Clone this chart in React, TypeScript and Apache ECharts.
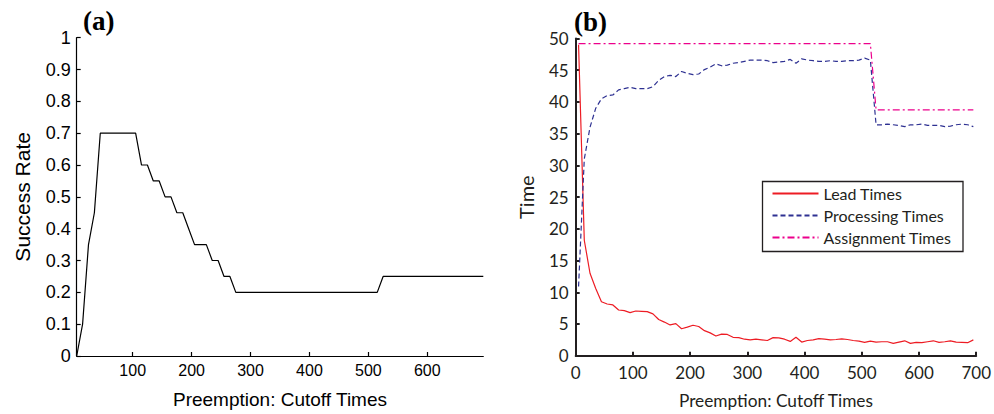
import React, { useEffect, useRef } from "react";
import * as echarts from "echarts";

const cutoffTimes: number[] = [
  5, 15, 25, 35, 45, 55, 65, 75, 85, 95,
  105, 115, 125, 135, 145, 155, 165, 175, 185, 195,
  205, 215, 225, 235, 245, 255, 265, 275, 285, 295,
  305, 315, 325, 335, 345, 355, 365, 375, 385, 395,
  405, 415, 425, 435, 445, 455, 465, 475, 485, 495,
  505, 515, 525, 535, 545, 555, 565, 575, 585, 595,
  605, 615, 625, 635, 645, 655, 665, 675, 685, 695,
];

const successRate: number[] = [
  0, 0.1, 0.35, 0.45, 0.7, 0.7, 0.7, 0.7, 0.7, 0.7,
  0.7, 0.6, 0.6, 0.55, 0.55, 0.5, 0.5, 0.45, 0.45, 0.4,
  0.35, 0.35, 0.35, 0.3, 0.3, 0.25, 0.25, 0.2, 0.2, 0.2,
  0.2, 0.2, 0.2, 0.2, 0.2, 0.2, 0.2, 0.2, 0.2, 0.2,
  0.2, 0.2, 0.2, 0.2, 0.2, 0.2, 0.2, 0.2, 0.2, 0.2,
  0.2, 0.2, 0.25, 0.25, 0.25, 0.25, 0.25, 0.25, 0.25, 0.25,
  0.25, 0.25, 0.25, 0.25, 0.25, 0.25, 0.25, 0.25, 0.25, 0.25,
];

const leadTimes: number[] = [
  49, 18.2, 13.0, 10.6, 8.5, 8.15, 8.0, 7.2, 7.1, 6.8,
  7.05, 7.0, 6.95, 6.6, 5.7, 5.3, 4.85, 5.05, 4.25, 4.5,
  4.8, 4.6, 3.95, 3.6, 3.1, 3.4, 3.35, 2.9, 2.85, 2.6,
  2.5, 2.6, 2.5, 2.4, 2.85, 2.8, 2.6, 2.25, 2.9, 2.15,
  2.4, 2.5, 2.7, 2.6, 2.5, 2.55, 2.65, 2.55, 2.4, 2.3,
  2.1, 2.3, 2.15, 2.2, 2.2, 1.95, 2.15, 2.35, 1.95, 2.1,
  2.05, 2.2, 2.35, 2.1, 2.2, 2.35, 2.15, 2.1, 2.05, 2.5,
];

const processingTimes: number[] = [
  10.9, 31, 36, 39, 40.5, 41, 41.1, 41.9, 42.1, 42.3,
  42.1, 42.1, 42.1, 42.4, 43.4, 44.0, 44.2, 44.0, 44.8, 44.5,
  44.3, 44.4, 45.1, 45.5, 46.0, 45.7, 45.8, 46.1, 46.2, 46.4,
  46.6, 46.6, 46.6, 46.5, 46.2, 46.3, 46.4, 46.7, 46.1, 46.8,
  46.6, 46.5, 46.4, 46.4, 46.5, 46.4, 46.4, 46.5, 46.5, 46.6,
  46.9, 46.6, 36.4, 36.4, 36.5, 36.4, 36.3, 36.1, 36.4, 36.4,
  36.5, 36.3, 36.3, 36.3, 36.1, 36.2, 36.4, 36.5, 36.4, 36.1,
];

const assignmentTimes: number[] = [
  49.2, 49.2, 49.2, 49.2, 49.2, 49.2, 49.2, 49.2, 49.2, 49.2,
  49.2, 49.2, 49.2, 49.2, 49.2, 49.2, 49.2, 49.2, 49.2, 49.2,
  49.2, 49.2, 49.2, 49.2, 49.2, 49.2, 49.2, 49.2, 49.2, 49.2,
  49.2, 49.2, 49.2, 49.2, 49.2, 49.2, 49.2, 49.2, 49.2, 49.2,
  49.2, 49.2, 49.2, 49.2, 49.2, 49.2, 49.2, 49.2, 49.2, 49.2,
  49.2, 49.2, 38.75, 38.75, 38.75, 38.75, 38.75, 38.75, 38.75, 38.75,
  38.75, 38.75, 38.75, 38.75, 38.75, 38.75, 38.75, 38.75, 38.75, 38.75,
];

const leftXTicks: number[] = [100, 200, 300, 400, 500, 600];
const seriesNames: string[] = ["Lead Times", "Processing Times", "Assignment Times"];

const pair = (ys: number[]) => cutoffTimes.map((x, i) => [x, ys[i]]);

const FONT_A = "Liberation Sans, Arial, Helvetica, sans-serif";
const FONT_B = "Lato, Liberation Sans, sans-serif";
const INK_B = "#231f20";

export default function App() {
  const ref = useRef<HTMLDivElement>(null);
  useEffect(() => {
    if (!ref.current) return;
    const chart = echarts.init(ref.current, undefined, { renderer: "svg" });
    const option: any = {
      animation: false,
      backgroundColor: "#ffffff",
      grid: [
        { left: 76.7, top: 37.7, width: 406.6, height: 321.3 },
        { left: 575.7, top: 38.5, width: 403.3, height: 317.2 },
      ],
      xAxis: [
        {
          type: "value",
          gridIndex: 0,
          min: 5,
          max: 695,
          name: "Preemption: Cutoff Times",
          nameLocation: "middle",
          nameGap: 34,
          nameTextStyle: { fontFamily: FONT_A, fontSize: 19, color: "#000" },
          axisLine: { lineStyle: { color: "#000", width: 1.2 } },
          axisTick: { inside: true, length: 4, customValues: leftXTicks, lineStyle: { color: "#000", width: 1.2 } },
          axisLabel: { customValues: leftXTicks, fontFamily: FONT_A, fontSize: 16, color: "#000", margin: 6 },
          splitLine: { show: false },
        },
        {
          type: "value",
          gridIndex: 1,
          min: 0,
          max: 700,
          interval: 100,
          name: "Preemption: Cutoff Times",
          nameLocation: "middle",
          nameGap: 36,
          nameTextStyle: { fontFamily: FONT_B, fontSize: 17.3, color: INK_B },
          axisLine: { lineStyle: { color: INK_B, width: 2 } },
          axisTick: { inside: true, length: 4, lineStyle: { color: INK_B, width: 2 } },
          axisLabel: { fontFamily: FONT_B, fontSize: 17, color: INK_B, margin: 8 },
          splitLine: { show: false },
        },
      ],
      yAxis: [
        {
          type: "value",
          gridIndex: 0,
          min: 0,
          max: 1,
          interval: 0.1,
          name: "Success Rate",
          nameLocation: "middle",
          nameGap: 44,
          nameTextStyle: { fontFamily: FONT_A, fontSize: 21, color: "#000" },
          axisLine: { show: true, lineStyle: { color: "#000", width: 1.2 } },
          axisTick: { show: true, inside: true, length: 4, lineStyle: { color: "#000", width: 1.2 } },
          axisLabel: { fontFamily: FONT_A, fontSize: 18, color: "#000", margin: 6 },
          splitLine: { show: false },
        },
        {
          type: "value",
          gridIndex: 1,
          min: 0,
          max: 50,
          interval: 5,
          name: "Time",
          nameLocation: "middle",
          nameGap: 40,
          nameTextStyle: { fontFamily: FONT_B, fontSize: 20, color: INK_B },
          axisLine: { show: true, lineStyle: { color: INK_B, width: 2 } },
          axisTick: { show: true, inside: true, length: 4, lineStyle: { color: INK_B, width: 2 } },
          axisLabel: { fontFamily: FONT_B, fontSize: 17, color: INK_B, margin: 7 },
          splitLine: { show: false },
        },
      ],
      legend: {
        data: seriesNames,
        orient: "vertical",
        left: 767.5,
        top: 181.5,
        padding: [4, 4, 4, 4],
        itemWidth: 46,
        itemHeight: 14,
        itemGap: 6,
        selectedMode: false,
        itemStyle: { opacity: 0 },
        textStyle: { fontFamily: FONT_B, fontSize: 16, lineHeight: 16, color: INK_B },
      },
      graphic: [
        {
          type: "rect",
          shape: { x: 762.5, y: 181.5, width: 200.5, height: 70 },
          style: { fill: "none", stroke: INK_B, lineWidth: 1.3 },
          silent: true,
        },
        {
          type: "text",
          x: 83,
          y: 21,
          style: {
            text: "(a)",
            font: 'bold 27px "Liberation Serif", "Times New Roman", serif',
            fill: "#000",
            textVerticalAlign: "middle",
          },
        },
        {
          type: "text",
          x: 574,
          y: 22,
          style: {
            text: "(b)",
            font: 'bold 27px "Liberation Serif", "Times New Roman", serif',
            fill: "#000",
            textVerticalAlign: "middle",
          },
        },
      ],
      series: [
        {
          name: "Success Rate",
          type: "line",
          xAxisIndex: 0,
          yAxisIndex: 0,
          data: pair(successRate),
          symbol: "none",
          lineStyle: { color: "#000", width: 1.2 },
          itemStyle: { color: "#000" },
        },
        {
          name: seriesNames[0],
          type: "line",
          xAxisIndex: 1,
          yAxisIndex: 1,
          data: pair(leadTimes),
          symbol: "none",
          lineStyle: { color: "#ed1c24", width: 1.2 },
          itemStyle: { color: "#ed1c24" },
        },
        {
          name: seriesNames[1],
          type: "line",
          xAxisIndex: 1,
          yAxisIndex: 1,
          data: pair(processingTimes),
          symbol: "none",
          lineStyle: { color: "#2e3192", width: 1.2, type: [5, 3] },
          itemStyle: { color: "#2e3192" },
        },
        {
          name: seriesNames[2],
          type: "line",
          xAxisIndex: 1,
          yAxisIndex: 1,
          data: pair(assignmentTimes),
          symbol: "none",
          lineStyle: { color: "#ec008c", width: 1.2, type: [7, 3, 2, 3] },
          itemStyle: { color: "#ec008c" },
        },
      ],
    };
    chart.setOption(option);
    return () => chart.dispose();
  }, []);
  return (
    <div
      ref={ref}
      style={{ position: "absolute", left: 0, top: 0, width: 994, height: 414, background: "#fff" }}
    />
  );
}
